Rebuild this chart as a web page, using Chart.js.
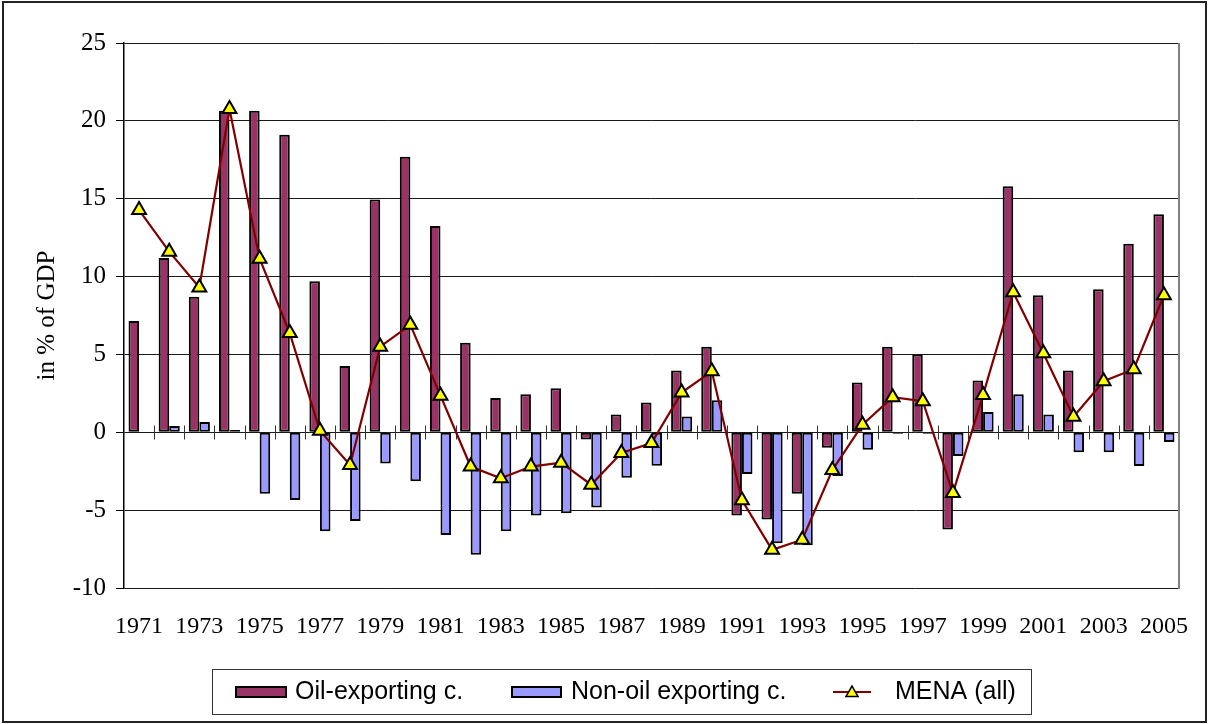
<!DOCTYPE html>
<html><head><meta charset="utf-8">
<script src="https://cdn.jsdelivr.net/npm/chart.js@4.4.0/dist/chart.umd.min.js"></script>
<style>html,body{margin:0;padding:0;background:#fff;overflow:hidden}canvas{display:block}</style>
</head><body>
<canvas id="c" width="1208" height="724"></canvas>
<script>
const years = ['1971','1972','1973','1974','1975','1976','1977','1978','1979','1980',
  '1981','1982','1983','1984','1985','1986','1987','1988','1989','1990',
  '1991','1992','1993','1994','1995','1996','1997','1998','1999','2000',
  '2001','2002','2003','2004','2005'];
const oilExporting = [7.15, 11.2, 8.7, 20.65, 20.65, 19.1, 9.7, 4.25, 14.95, 17.7,
  13.25, 5.75, 2.2, 2.45, 2.83, -0.47, 1.15, 1.92, 3.96, 5.49,
  -5.35, -5.6, -3.95, -0.99, 3.19, 5.5, 5.0, -6.25, 3.32, 15.8,
  8.8, 3.96, 9.18, 12.1, 14.0];
const nonOilExporting = [null, 0.4, 0.66, 0.15, -3.95, -4.35, -6.35, -5.7, -2.0, -3.15,
  -6.6, -7.87, -6.35, -5.35, -5.2, -4.83, -2.92, -2.15, 1.02, 2.05,
  -2.68, -7.12, -7.25, -2.8, -1.12, -0.1, -0.1, -1.53, 1.3, 2.44,
  1.15, -1.29, -1.29, -2.17, -0.63];
const menaAll = [14.27, 11.6, 9.3, 20.76, 11.15, 6.37, 0.1, -2.1, 5.5, 6.9,
  2.35, -2.2, -2.95, -2.2, -1.95, -3.37, -1.33, -0.69, 2.55, 3.92,
  -4.36, -7.55, -6.9, -2.43, 0.49, 2.25, 2.0, -3.9, 2.4, 9.0,
  5.08, 1.0, 3.28, 4.05, 8.8];
const yTickValues = [-10, -5, 0, 5, 10, 15, 20, 25];
const seriesNames = ['Oil-exporting c.', 'Non-oil exporting c.', 'MENA (all)'];
const yAxisTitle = 'in % of GDP';

const SERIF = "'Liberation Serif','Times New Roman',serif";
const SANS = "'Liberation Sans',Arial,sans-serif";

const decorPlugin = {
  id: 'decor',
  beforeDraw(chart) {
    const ctx = chart.ctx;
    ctx.save();
    ctx.fillStyle = '#fff';
    ctx.fillRect(0, 0, chart.width, chart.height);
    ctx.restore();
  },
  beforeDatasetsDraw(chart) {
    const {ctx, chartArea: a, scales: {x, y}} = chart;
    ctx.save();
    ctx.strokeStyle = '#808080';
    ctx.lineWidth = 2;
    ctx.beginPath();
    ctx.moveTo(a.right, a.top);
    ctx.lineTo(a.right, a.bottom + 1);
    ctx.stroke();
    const y0 = Math.round(y.getPixelForValue(0)) + 0.5;
    ctx.strokeStyle = '#333';
    ctx.lineWidth = 1;
    ctx.beginPath();
    for (let i = 1; i < years.length; i++) {
      const px = Math.round((x.getPixelForValue(i - 1) + x.getPixelForValue(i)) / 2) + 0.5;
      ctx.moveTo(px, y0 - 7);
      ctx.lineTo(px, y0 + 7);
    }
    ctx.stroke();
    ctx.restore();
  },
  afterDraw(chart) {
    const ctx = chart.ctx;
    const ds = chart.data.datasets;
    ctx.save();
    ctx.strokeStyle = '#222';
    ctx.lineWidth = 2;
    ctx.strokeRect(3, 2, 1203, 720);
    ctx.lineWidth = 1;
    ctx.strokeStyle = '#333';
    ctx.strokeRect(212.5, 669.5, 819, 45);
    ctx.font = '25px ' + SANS;
    ctx.textBaseline = 'alphabetic';
    const cy = 692;
    ctx.fillStyle = ds[0].backgroundColor;
    ctx.fillRect(235, 686, 52, 12);
    ctx.strokeStyle = '#000';
    ctx.lineWidth = 2;
    ctx.strokeRect(236, 687, 50, 10);
    ctx.fillStyle = '#000';
    ctx.fillText(ds[0].label, 295, 699);
    ctx.fillStyle = ds[1].backgroundColor;
    ctx.fillRect(511, 686, 51, 12);
    ctx.strokeRect(512, 687, 49, 10);
    ctx.fillStyle = '#000';
    ctx.fillText(ds[1].label, 571, 699);
    ctx.strokeStyle = ds[2].borderColor;
    ctx.lineWidth = 2;
    ctx.beginPath();
    ctx.moveTo(833, cy);
    ctx.lineTo(871, cy);
    ctx.stroke();
    const r = 7, tx = 852, ty = cy + 1;
    ctx.beginPath();
    ctx.moveTo(tx, ty - r);
    ctx.lineTo(tx + r * 0.866, ty + r * 0.5);
    ctx.lineTo(tx - r * 0.866, ty + r * 0.5);
    ctx.closePath();
    ctx.fillStyle = ds[2].pointBackgroundColor;
    ctx.fill();
    ctx.strokeStyle = '#000';
    ctx.lineWidth = 1.5;
    ctx.stroke();
    ctx.fillStyle = '#000';
    ctx.fillText(ds[2].label, 895, 699);
    ctx.restore();
  }
};

new Chart(document.getElementById('c'), {
  type: 'bar',
  data: {
    labels: years,
    datasets: [
      {
        type: 'bar', label: seriesNames[0], data: oilExporting, order: 1,
        backgroundColor: '#993366', borderColor: '#000', borderWidth: 2,
        borderSkipped: false, categoryPercentage: 0.7, barPercentage: 1.0
      },
      {
        type: 'bar', label: seriesNames[1], data: nonOilExporting, order: 2,
        backgroundColor: '#9999FF', borderColor: '#000', borderWidth: 2,
        borderSkipped: false, categoryPercentage: 0.7, barPercentage: 1.0
      },
      {
        type: 'line', label: seriesNames[2], data: menaAll, order: 0,
        borderColor: '#800000', borderWidth: 2.2, tension: 0, fill: false,
        pointStyle: 'triangle', pointRadius: 8, pointHoverRadius: 8,
        pointBackgroundColor: '#FFFF00', pointBorderColor: '#000', pointBorderWidth: 2
      }
    ]
  },
  options: {
    responsive: false,
    animation: false,
    devicePixelRatio: 1,
    layout: { padding: { top: 43, right: 29, bottom: 0, left: 0 } },
    plugins: { legend: { display: false }, tooltip: { enabled: false } },
    scales: {
      x: {
        offset: true,
        grid: { display: false },
        border: { display: false },
        ticks: {
          autoSkip: false, maxRotation: 0, minRotation: 0, padding: 16,
          color: '#000', font: { family: SERIF, size: 24 },
          callback: (v, i) => (i % 2 === 0 ? years[i] : '')
        },
        afterFit: s => { s.height = 136; }
      },
      y: {
        min: yTickValues[0], max: yTickValues[yTickValues.length - 1],
        afterBuildTicks: s => { s.ticks = yTickValues.map(v => ({ value: v })); },
        grid: { color: '#1a1a1a', lineWidth: 1, tickLength: 8, tickColor: '#000', drawTicks: true },
        border: { display: true, color: '#000', width: 1.5 },
        ticks: {
          padding: 10, color: '#000', font: { family: SERIF, size: 25 },
          callback: v => String(v)
        },
        title: {
          display: true, text: yAxisTitle, color: '#000',
          font: { family: SERIF, size: 25 }, padding: { top: 32, bottom: 0 }
        },
        afterFit: s => { s.width = 124; }
      }
    }
  },
  plugins: [decorPlugin]
});
</script>
</body></html>
